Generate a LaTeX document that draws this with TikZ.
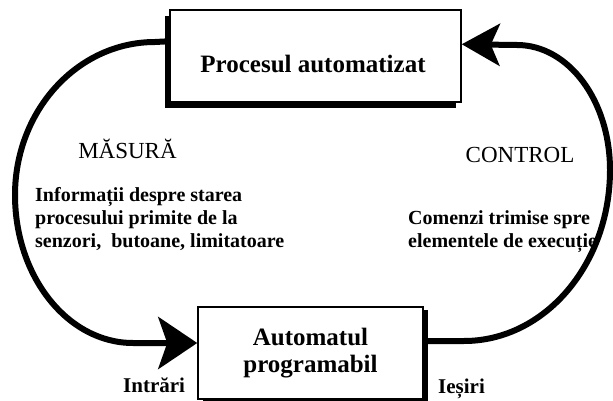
\documentclass[tikz,border=0pt]{standalone}
\usepackage{fontspec}
\setmainfont{Liberation Serif}
\usetikzlibrary{arrows.meta,calc}
\begin{document}
\begin{tikzpicture}[x=1pt,y=-1pt,
  box/.style={draw, line width=1.5pt, fill=white, inner sep=0pt},
  shade/.style={fill=black},
  flow/.style={line width=6pt},
  boxtext/.style={font=\fontsize{25}{27}\selectfont\bfseries, align=center, inner sep=0pt},
  head/.style={font=\fontsize{23}{25}\selectfont, inner sep=0pt},
  desc/.style={font=\fontsize{20}{23}\selectfont\bfseries, align=left, inner sep=0pt},
  io/.style={font=\fontsize{21}{23}\selectfont\bfseries, inner sep=0pt}]
\useasboundingbox (0,0) rectangle (613,401);
\clip (0,0) rectangle (613,401);

% shadows of the boxes
\fill[shade] (165,16) rectangle (456,108);
\fill[shade] (203,310) rectangle (428,402);

% boxes
\node[box, minimum width=291pt, minimum height=92pt] (ptop) at (315.5,56) {};
\node[boxtext, anchor=base] (ptoptext) at (313,73) {Procesul automatizat};

\node[box, boxtext, minimum width=225pt, minimum height=92pt]
      (pbot) at (310.5,353) {Automatul\\programabil};

% connectors
\draw[flow, -{Stealth[length=39pt, width=52pt, inset=9pt]}]
  ([yshift=-32pt]ptop.north west) -- (155,42)
  .. controls (77.7,42) and (15,110.5) .. (15,195)
  .. controls (15,276.7) and (67.8,343) .. (133,343)
  -- ([yshift=10pt]pbot.west);

\draw[flow, -{Stealth[length=38pt, width=42pt, inset=9pt]}]
  ([yshift=12pt]pbot.east) -- (464,341)
  .. controls (544.6,341) and (610,264.4) .. (610,170)
  .. controls (610,100.4) and (568.4,45) .. (517,45)
  -- ([yshift=-35pt]ptop.north east);

% labels
\node[head, anchor=base] (masura) at (127.5,159) {MĂSURĂ};
\node[head, anchor=base] (control) at (520,162) {CONTROL};
\node[desc, anchor=north west] (info) at (35,187)
  {Informații despre starea\\procesului primite de la\\senzori,\ \ butoane, limitatoare};
\node[desc, anchor=north west] (cmd) at (408,210)
  {Comenzi trimise spre\\elementele de execuție};
\node[io, anchor=base west] (intrari) at (123,392) {Intrări};
\node[io, anchor=base west] (iesiri) at (438,393) {Ieșiri};
\end{tikzpicture}
\end{document}
